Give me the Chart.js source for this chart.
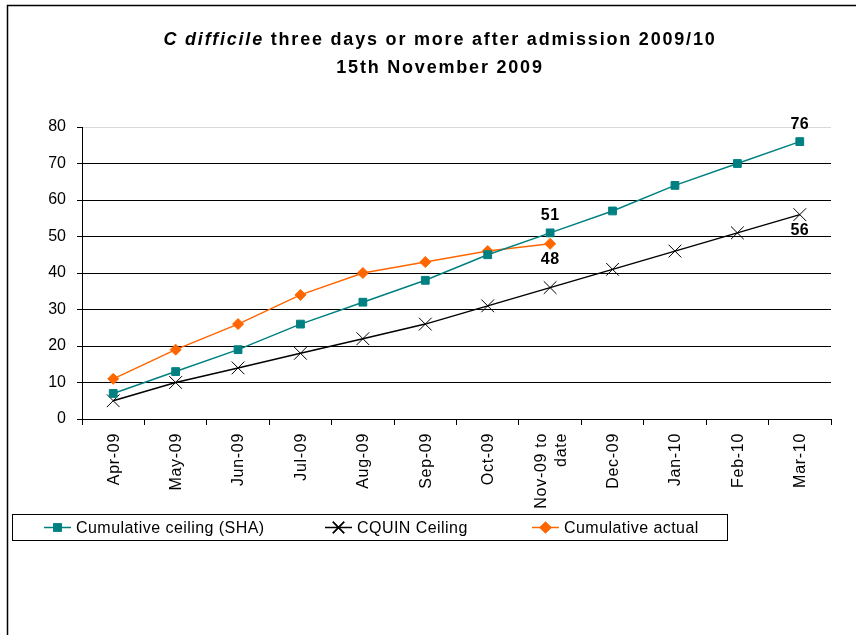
<!DOCTYPE html>
<html>
<head>
<meta charset="utf-8">
<title>C difficile three days or more after admission 2009/10</title>
<script src="https://cdn.jsdelivr.net/npm/chart.js@4.4.1/dist/chart.umd.min.js"></script>
<style>
    html, body { margin: 0; padding: 0; background: #fff; }
    canvas { display: block; }
</style>
</head>
<body>
<canvas id="cdiffChart" width="856" height="635"></canvas>
<script>
// Data
const months = ['Apr-09', 'May-09', 'Jun-09', 'Jul-09', 'Aug-09', 'Sep-09', 'Oct-09',
    ['Nov-09 to', 'date'], 'Dec-09', 'Jan-10', 'Feb-10', 'Mar-10'];
const ceilingSHA = [7, 13, 19, 26, 32, 38, 45, 51, 57, 64, 70, 76];
const cquinCeiling = [5, 10, 14, 18, 22, 26, 31, 36, 41, 46, 51, 56];
const cumulativeActual = [11, 19, 26, 34, 40, 43, 46, 48, null, null, null, null];
const yMin = 0;
const yMax = 80;
const yStep = 10;

// Which points carry a value label: [datasetIndex, pointIndex, above?]
const labelledPoints = [[0, 7, true], [0, 11, true], [1, 11, false], [2, 7, false]];

const FONT = "'Liberation Sans', Arial, sans-serif";
const COLORS = {
    teal: '#008080',
    black: '#000000',
    orange: '#FF6600'
};

// Frame + title, drawn on the canvas
const titlePlugin = {
    id: 'titleFrame',
    beforeDraw(chart) {
        const ctx = chart.ctx;
        ctx.save();
        ctx.fillStyle = '#fff';
        ctx.fillRect(0, 0, chart.width, chart.height);
        ctx.strokeStyle = '#000';
        ctx.lineWidth = 1.5;
        ctx.beginPath();
        ctx.moveTo(7.5, chart.height + 5);
        ctx.lineTo(7.5, 5.5);
        ctx.lineTo(chart.width + 5, 5.5);
        ctx.stroke();

        const cx = 440;
        ctx.fillStyle = '#000';
        ctx.textBaseline = 'alphabetic';
        ctx.letterSpacing = '1.8px';
        const italicPart = 'C difficile';
        const restPart = ' three days or more after admission 2009/10';
        ctx.font = 'italic bold 18px ' + FONT;
        const w1 = ctx.measureText(italicPart).width;
        ctx.font = 'bold 18px ' + FONT;
        const w2 = ctx.measureText(restPart).width;
        const x = cx - (w1 + w2) / 2;
        ctx.textAlign = 'left';
        ctx.font = 'italic bold 18px ' + FONT;
        ctx.fillText(italicPart, x, 45);
        ctx.font = 'bold 18px ' + FONT;
        ctx.fillText(restPart, x + w1, 45);
        ctx.textAlign = 'center';
        ctx.fillText('15th November 2009', cx, 73);
        ctx.restore();
    }
};

// Vertical category labels, placed at the x scale's tick pixels
const xLabelPlugin = {
    id: 'xLabels',
    afterDraw(chart) {
        const scale = chart.scales.x;
        const ctx = chart.ctx;
        const top = scale.top + 14;
        ctx.save();
        ctx.font = '16px ' + FONT;
        ctx.letterSpacing = '0.7px';
        ctx.fillStyle = '#000';
        ctx.textAlign = 'right';
        ctx.textBaseline = 'middle';
        chart.data.labels.forEach((label, i) => {
            const lines = Array.isArray(label) ? label : [label];
            const x = scale.getPixelForTick(i);
            lines.forEach((line, j) => {
                const lx = x + 1 + (j - (lines.length - 1) / 2) * 20;
                ctx.save();
                ctx.translate(lx, top);
                ctx.rotate(-Math.PI / 2);
                ctx.fillText(line, 0, 0);
                ctx.restore();
            });
        });
        ctx.restore();
    }
};

// Value labels next to selected points
const valueLabelPlugin = {
    id: 'valueLabels',
    afterDatasetsDraw(chart) {
        const ctx = chart.ctx;
        ctx.save();
        ctx.font = 'bold 16px ' + FONT;
        ctx.letterSpacing = '0.5px';
        ctx.fillStyle = '#000';
        ctx.textAlign = 'center';
        ctx.textBaseline = 'middle';
        labelledPoints.forEach(([ds, idx, above]) => {
            const pt = chart.getDatasetMeta(ds).data[idx];
            const value = chart.data.datasets[ds].data[idx];
            ctx.fillText(String(value), pt.x, pt.y + (above ? -17 : 16));
        });
        ctx.restore();
    }
};

// Boxed legend under the axis labels
const boxLegendPlugin = {
    id: 'boxLegend',
    afterDraw(chart) {
        const ctx = chart.ctx;
        const box = { x: 12.5, y: 514.5, w: 715, h: 26 };
        const slots = [44, 325, 532];
        ctx.save();
        ctx.strokeStyle = '#000';
        ctx.lineWidth = 1;
        ctx.strokeRect(box.x, box.y, box.w, box.h);
        const cy = box.y + box.h / 2;
        chart.data.datasets.forEach((ds, i) => {
            const x0 = slots[i];
            ctx.strokeStyle = ds.borderColor;
            ctx.lineWidth = 1.5;
            ctx.beginPath();
            ctx.moveTo(x0, cy);
            ctx.lineTo(x0 + 27, cy);
            ctx.stroke();
            Chart.helpers.drawPoint(ctx, {
                pointStyle: ds.pointStyle,
                radius: ds.legendRadius,
                rotation: 0,
                borderWidth: 1
            }, x0 + 13.5, cy);
            ctx.fillStyle = ds.pointBackgroundColor;
            ctx.strokeStyle = ds.pointBorderColor;
            ctx.fill();
            ctx.stroke();
            ctx.fillStyle = '#000';
            ctx.font = '16px ' + FONT;
            ctx.letterSpacing = '0.45px';
            ctx.textAlign = 'left';
            ctx.textBaseline = 'middle';
            ctx.fillText(ds.label, x0 + 32, cy + 1);
        });
        ctx.restore();
    }
};

new Chart(document.getElementById('cdiffChart'), {
    type: 'line',
    data: {
        labels: months,
        datasets: [
            {
                label: 'Cumulative ceiling (SHA)',
                data: ceilingSHA,
                borderColor: COLORS.teal,
                borderWidth: 1.5,
                pointStyle: 'rect',
                pointRadius: 5.5,
                legendRadius: 5,
                pointBackgroundColor: COLORS.teal,
                pointBorderColor: COLORS.teal,
                pointBorderWidth: 1,
                tension: 0
            },
            {
                label: 'CQUIN Ceiling',
                data: cquinCeiling,
                borderColor: COLORS.black,
                borderWidth: 1.5,
                pointStyle: 'crossRot',
                pointRadius: 9,
                legendRadius: 8,
                pointBackgroundColor: COLORS.black,
                pointBorderColor: COLORS.black,
                pointBorderWidth: 1,
                tension: 0
            },
            {
                label: 'Cumulative actual',
                data: cumulativeActual,
                borderColor: COLORS.orange,
                borderWidth: 1.5,
                pointStyle: 'rectRot',
                pointRadius: 5.5,
                legendRadius: 5,
                pointBackgroundColor: COLORS.orange,
                pointBorderColor: COLORS.orange,
                pointBorderWidth: 1,
                tension: 0,
                spanGaps: false
            }
        ]
    },
    options: {
        responsive: false,
        animation: false,
        events: [],
        layout: {
            padding: { left: 20, right: 25, top: 127, bottom: 116 }
        },
        plugins: {
            legend: { display: false },
            title: { display: false },
            tooltip: { enabled: false }
        },
        scales: {
            x: {
                offset: true,
                grid: {
                    offset: true,
                    drawOnChartArea: false,
                    drawTicks: true,
                    tickLength: 6,
                    color: '#000'
                },
                border: { color: '#000', width: 1 },
                ticks: {
                    display: false,
                    autoSkip: false
                },
                afterFit: (scale) => { scale.height = 100; }
            },
            y: {
                min: yMin,
                max: yMax,
                ticks: {
                    stepSize: yStep,
                    padding: 11,
                    color: '#000',
                    font: { family: FONT, size: 16 }
                },
                grid: {
                    color: (ctx) => (ctx.tick && ctx.tick.value === yMax ? '#d9d9d9' : '#000'),
                    tickColor: '#000',
                    tickLength: 5,
                    drawTicks: true
                },
                border: { color: '#000', width: 1 },
                afterFit: (scale) => { scale.width = 62; }
            }
        }
    },
    plugins: [titlePlugin, xLabelPlugin, valueLabelPlugin, boxLegendPlugin]
});
</script>
</body>
</html>
